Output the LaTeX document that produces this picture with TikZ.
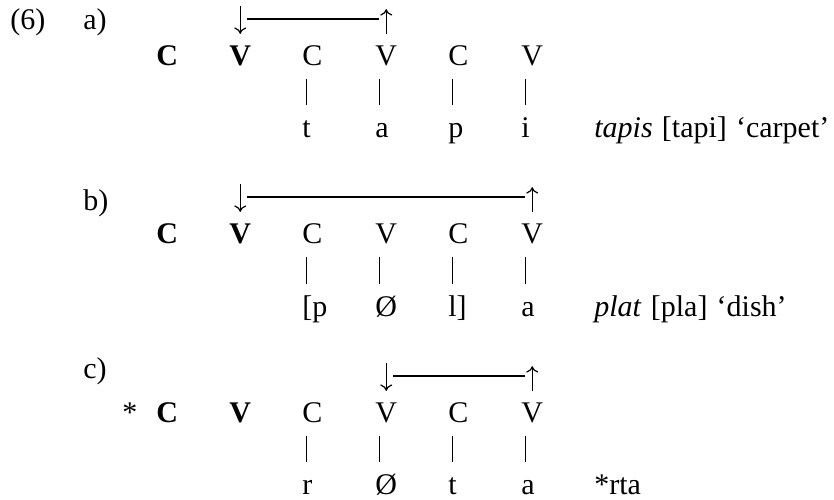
\documentclass[tikz,border=0pt]{standalone}
\usepackage{fontspec}
\setmainfont{Liberation Serif}
\usetikzlibrary{arrows.meta,calc}

\begin{document}
\begin{tikzpicture}[x=0.5pt,y=-0.5pt,font=\fontsize{15}{18}\selectfont,
  tier/.style={anchor=base west,inner sep=0pt,text height=9.9pt,text depth=3pt},
  skel/.style={tier,font=\fontsize{15}{18}\selectfont\bfseries},
  plain/.style={anchor=base west,inner sep=0pt},
  gloss/.style={plain,execute at begin node={\spaceskip=4.6pt plus 1pt}},
  assoc/.style={line width=0.55pt,shorten <=4pt,shorten >=5.9pt},
  fall/.style={line width=0.6pt,-{To[length=3.2pt,width=6pt]},shorten >=5.5pt},
  rise/.style={line width=0.6pt,-{To[length=3.2pt,width=6pt]},shorten <=5.5pt},
  span/.style={line width=0.9pt,shorten <=3.5pt,shorten >=3.5pt}]
\useasboundingbox (0,0) rectangle (834,499);

% (6a)
\node(ex)[plain] at (10,29) {(6)};
\node(la)[plain] at (83,29) {a)};
\node(aC1)[skel] at (156,65) {C};
\node(aV2)[skel] at (229,65) {V};
\node(aC3)[tier] at (302,65) {C};
\node(aV4)[tier] at (375,65) {V};
\node(aC5)[tier] at (448,65) {C};
\node(aV6)[tier] at (521,65) {V};
\node(at)[tier] at (302,137) {t};
\node(aa)[tier] at (375,137) {a};
\node(ap)[tier] at (448,137) {p};
\node(ai)[tier] at (521,137) {i};
\node(ga)[gloss] at (594,137) {\textit{tapis} [tapi] ‘carpet’};

% (6b)
\node(lb)[plain] at (83,210) {b)};
\node(bC1)[skel] at (156,243) {C};
\node(bV2)[skel] at (229,243) {V};
\node(bC3)[tier] at (302,243) {C};
\node(bV4)[tier] at (375,243) {V};
\node(bC5)[tier] at (448,243) {C};
\node(bV6)[tier] at (521,243) {V};
\node(bp)[tier] at (302,316) {[p};
\node(bo)[tier] at (375,316) {Ø};
\node(bl)[tier] at (448,316) {l]};
\node(ba)[tier] at (521,316) {a};
\node(gb)[gloss] at (594,316) {\textit{plat} [pla] ‘dish’};

% (6c)
\node(lc)[plain] at (83,378) {c)};
\node(star)[plain] at (122,422) {*};
\node(cC1)[skel] at (156,422) {C};
\node(cV2)[skel] at (229,422) {V};
\node(cC3)[tier] at (302,422) {C};
\node(cV4)[tier] at (375,422) {V};
\node(cC5)[tier] at (448,422) {C};
\node(cV6)[tier] at (521,422) {V};
\node(cr)[tier] at (302,494) {r};
\node(co)[tier] at (375,494) {Ø};
\node(ct)[tier] at (448,494) {t};
\node(ca)[tier] at (521,494) {a};
\node(gc)[gloss] at (594,494) {*rta};

% spreading lines
\coordinate (aL) at ([yshift=12.8pt]aV2.north);
\coordinate (aR) at ([yshift=12.8pt]aV4.north);
\coordinate (bL) at ([yshift=12.8pt]bV2.north);
\coordinate (bR) at ([yshift=12.8pt]bV6.north);
\coordinate (cL) at ([yshift=12.8pt]cV4.north);
\coordinate (cR) at ([yshift=12.8pt]cV6.north);

\draw [fall] ([yshift=6.5pt]aL) to (aV2.north);
\draw [rise] (aV4.north) to ([yshift=5pt]aR);
\draw [span] (aL) to (aR);
\draw [fall] ([yshift=6.5pt]bL) to (bV2.north);
\draw [rise] (bV6.north) to ([yshift=5pt]bR);
\draw [span] (bL) to (bR);
\draw [fall] ([yshift=6.5pt]cL) to (cV4.north);
\draw [rise] (cV6.north) to ([yshift=5pt]cR);
\draw [span] (cL) to (cR);

% association lines
\draw [assoc] ([xshift=2.2pt]aC3.south west) to ([xshift=2.2pt]at.north west);
\draw [assoc] ([xshift=2.2pt]aV4.south west) to ([xshift=2.2pt]aa.north west);
\draw [assoc] ([xshift=2.2pt]aC5.south west) to ([xshift=2.2pt]ap.north west);
\draw [assoc] ([xshift=2.2pt]aV6.south west) to ([xshift=2.2pt]ai.north west);
\draw [assoc] ([xshift=2.2pt]bC3.south west) to ([xshift=2.2pt]bp.north west);
\draw [assoc] ([xshift=2.2pt]bV4.south west) to ([xshift=2.2pt]bo.north west);
\draw [assoc] ([xshift=2.2pt]bC5.south west) to ([xshift=2.2pt]bl.north west);
\draw [assoc] ([xshift=2.2pt]bV6.south west) to ([xshift=2.2pt]ba.north west);
\draw [assoc] ([xshift=2.2pt]cC3.south west) to ([xshift=2.2pt]cr.north west);
\draw [assoc] ([xshift=2.2pt]cV4.south west) to ([xshift=2.2pt]co.north west);
\draw [assoc] ([xshift=2.2pt]cC5.south west) to ([xshift=2.2pt]ct.north west);
\draw [assoc] ([xshift=2.2pt]cV6.south west) to ([xshift=2.2pt]ca.north west);
\end{tikzpicture}
\end{document}
